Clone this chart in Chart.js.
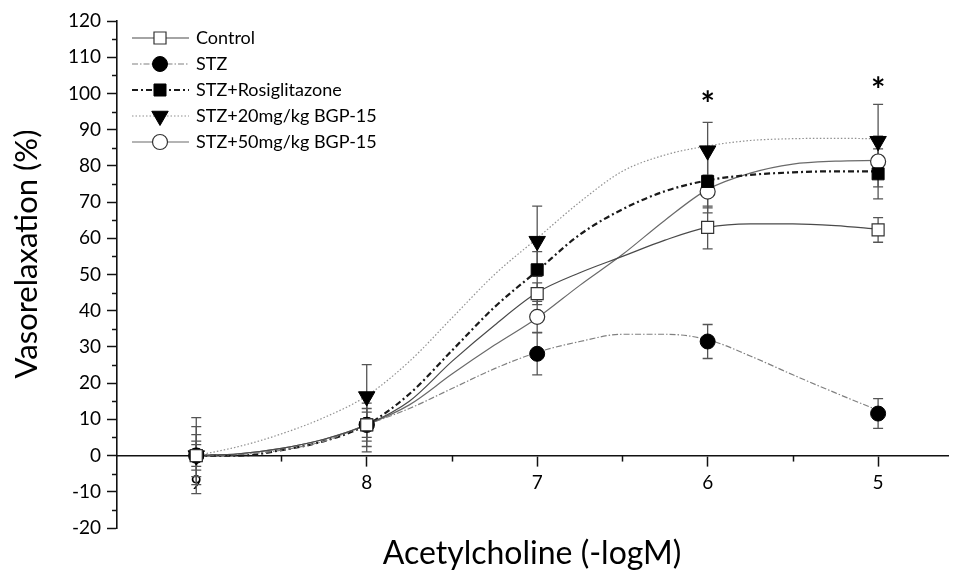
<!DOCTYPE html>
<html lang="en">
<head>
<meta charset="UTF-8">
<title>Vasorelaxation</title>
<style>
  html, body { margin: 0; padding: 0; background: #fff; }
  #wrap { width: 959px; height: 572px; }
</style>
</head>
<body>
<div id="wrap"><canvas id="myChart"></canvas></div>
<script src="https://cdn.jsdelivr.net/npm/chart.js"></script>
<script>
// Acetylcholine doses (-logM)
const doses = [9, 8, 7, 6, 5];

// mean vasorelaxation (%) per group
const control = [0, 8.5, 44.7, 63.0, 62.3];
const stz     = [0, 8.5, 28.1, 31.5, 11.6];
const rosi    = [0, 8.5, 51.3, 75.7, 77.8];
const bgp20   = [0, 16.3, 59.2, 84.2, 86.8];
const bgp50   = [0, 8.5, 38.3, 72.9, 81.2];

// error bars
const controlErr = [5.8, 4.5, 3.0, 5.9, 3.4];
const stzErr     = [4.0, 6.0, 5.8, 4.7, 4.1];
const rosiErr    = [8.0, 7.5, 5.0, 8.7, 6.9];
const bgp20Err   = [10.5, 8.8, 9.7, 7.8, 10.2];
const bgp50Err   = [3.0, 3.5, 4.3, 4.5, 7.0];

// fitted curves
const fitX       = [9, 8.75, 8.5, 8.25, 8, 7.75, 7.5, 7.25, 7, 6.75, 6.5, 6.25, 6, 5.75, 5.5, 5.25, 5];
const fitControl = [0, 0.5, 2, 4.5, 8.5, 15, 26, 36, 45, 50.5, 55, 59.5, 63, 64, 64, 63.5, 62.5];
const fitStz     = [0, 0.3, 1.5, 4, 8.5, 13, 18.5, 24, 28.5, 31.5, 33.5, 33.5, 32, 27.5, 22.3, 17.3, 12.5];
const fitRosi    = [0, 0, 1.5, 4, 8.5, 17, 29, 41, 51, 61, 68, 73, 76, 77.5, 78.2, 78.5, 78.5];
const fitBgp20   = [0, 2.5, 6, 10.5, 16.5, 26, 38, 50, 60, 70, 78.5, 83, 85.5, 87, 87.5, 87.6, 87.5];
const fitBgp50   = [0, 0.5, 2, 4.5, 8.5, 14, 22.5, 30.5, 38, 47, 55.5, 65, 73.5, 78, 80.5, 81.3, 81.5];

// significance marks
const starDoses  = [6, 5];
const starValues = [99, 103];

const groupNames = ['Control', 'STZ', 'STZ+Rosiglitazone', 'STZ+20mg/kg BGP-15', 'STZ+50mg/kg BGP-15'];

function pts(xs, ys) {
  return xs.map((v, i) => ({ x: v, y: ys[i] }));
}

Chart.defaults.font.family = 'Lato, "Liberation Sans", sans-serif';
Chart.defaults.color = '#000';

// line + marker styles per group
const lineStyles = [
  { borderColor: '#4a4a4a', borderWidth: 1.2, borderDash: [] },
  { borderColor: '#808080', borderWidth: 1.2, borderDash: [6, 2, 1.5, 2] },
  { borderColor: '#1a1a1a', borderWidth: 2.2, borderDash: [6, 3, 2, 3] },
  { borderColor: '#909090', borderWidth: 1.2, borderDash: [1.5, 2] },
  { borderColor: '#6a6a6a', borderWidth: 1.2, borderDash: [] }
];
const markStyles = [
  { pointStyle: 'rect', pointRadius: 8.5, pointRotation: 0, pointBackgroundColor: '#fff', pointBorderColor: '#333', pointBorderWidth: 1.2 },
  { pointStyle: 'circle', pointRadius: 7.5, pointRotation: 0, pointBackgroundColor: '#000', pointBorderColor: '#000', pointBorderWidth: 1 },
  { pointStyle: 'rect', pointRadius: 8.5, pointRotation: 0, pointBackgroundColor: '#000', pointBorderColor: '#000', pointBorderWidth: 1 },
  { pointStyle: 'triangle', pointRadius: 9.5, pointRotation: 180, pointBackgroundColor: '#000', pointBorderColor: '#000', pointBorderWidth: 1 },
  { pointStyle: 'circle', pointRadius: 7.5, pointRotation: 0, pointBackgroundColor: '#fff', pointBorderColor: '#333', pointBorderWidth: 1.2 }
];

const means = [control, stz, rosi, bgp20, bgp50];
const errs = [controlErr, stzErr, rosiErr, bgp20Err, bgp50Err];
const fits = [fitControl, fitStz, fitRosi, fitBgp20, fitBgp50];

const datasets = [];
fits.forEach((f, i) => {
  datasets.push(Object.assign({
    label: groupNames[i] + ' fit',
    data: pts(fitX, f),
    showLine: true,
    pointRadius: 0,
    cubicInterpolationMode: 'monotone',
    order: 2
  }, lineStyles[i]));
});
means.forEach((m, i) => {
  datasets.push(Object.assign({
    label: groupNames[i],
    data: pts(doses, m),
    showLine: false,
    isMark: true,
    order: 1
  }, markStyles[i]));
});

// error bars under the markers
const errorBars = {
  id: 'errorBars',
  beforeDatasetsDraw(chart) {
    const { ctx, scales: { x, y } } = chart;
    ctx.save();
    ctx.strokeStyle = '#555';
    ctx.lineWidth = 1.3;
    means.forEach((m, g) => {
      doses.forEach((d, i) => {
        const px = x.getPixelForValue(d);
        const top = y.getPixelForValue(m[i] + errs[g][i]);
        const bot = y.getPixelForValue(m[i] - errs[g][i]);
        ctx.beginPath();
        ctx.moveTo(px, top); ctx.lineTo(px, bot);
        ctx.moveTo(px - 5, top); ctx.lineTo(px + 5, top);
        ctx.moveTo(px - 5, bot); ctx.lineTo(px + 5, bot);
        ctx.stroke();
      });
    });
    ctx.restore();
  }
};

// short minor ticks, stars, axis titles and legend
const extras = {
  id: 'extras',
  afterDraw(chart) {
    const { ctx, scales: { x, y } } = chart;
    ctx.save();
    ctx.strokeStyle = '#111';
    ctx.lineWidth = 1.5;
    const yLeft = chart.chartArea.left;
    y.ticks.forEach(t => {
      if (t.value % 10 !== 0) {
        const py = Math.round(y.getPixelForValue(t.value)) + 0.5;
        ctx.beginPath(); ctx.moveTo(yLeft - 5, py); ctx.lineTo(yLeft, py); ctx.stroke();
      }
    });
    const y0 = y.getPixelForValue(0);
    x.ticks.forEach(t => {
      if (t.value % 1 !== 0) {
        const px = Math.round(x.getPixelForValue(t.value)) + 0.5;
        ctx.beginPath(); ctx.moveTo(px, y0); ctx.lineTo(px, y0 + 6); ctx.stroke();
      }
    });

    // stars
    ctx.fillStyle = '#000';
    ctx.font = 'bold 34px Lato';
    ctx.textAlign = 'center';
    ctx.textBaseline = 'middle';
    starDoses.forEach((d, i) => {
      ctx.fillText('*', x.getPixelForValue(d), y.getPixelForValue(starValues[i]) + 8);
    });

    // axis titles
    ctx.font = '32px Lato';
    ctx.fillText('Acetylcholine (-logM)', 532, 554);
    ctx.save();
    ctx.translate(27, 254);
    ctx.rotate(-Math.PI / 2);
    ctx.font = '31px Lato';
    ctx.fillText('Vasorelaxation (%)', 0, 0);
    ctx.restore();

    // legend
    const marks = chart.data.datasets.filter(d => d.isMark);
    const lines = chart.data.datasets.filter(d => !d.isMark);
    marks.forEach((m, i) => {
      const ly = 38 + i * 26;
      const l = lines[i];
      ctx.save();
      ctx.strokeStyle = l.borderColor;
      ctx.lineWidth = l.borderWidth;
      ctx.setLineDash(l.borderDash);
      ctx.beginPath(); ctx.moveTo(132, ly); ctx.lineTo(189, ly); ctx.stroke();
      ctx.setLineDash([]);
      ctx.fillStyle = m.pointBackgroundColor;
      ctx.strokeStyle = m.pointBorderColor;
      ctx.lineWidth = m.pointBorderWidth;
      Chart.helpers.drawPoint(ctx, {
        pointStyle: m.pointStyle, radius: m.pointRadius,
        rotation: m.pointRotation, borderWidth: m.pointBorderWidth
      }, 160, ly);
      ctx.fillStyle = '#000';
      ctx.font = '18px Lato';
      ctx.textAlign = 'left';
      ctx.textBaseline = 'middle';
      ctx.fillText(m.label, 196, ly);
      ctx.restore();
    });
    ctx.restore();
  }
};

new Chart(document.getElementById('myChart'), {
  type: 'scatter',
  data: { datasets: datasets },
  options: {
    responsive: true,
    maintainAspectRatio: false,
    animation: false,
    layout: { padding: { top: 21, bottom: 44, left: 0, right: 4 } },
    plugins: { legend: { display: false }, tooltip: { enabled: false } },
    scales: {
      x: {
        type: 'linear',
        reverse: true,
        min: 4.587,
        max: 9.465,
        position: { y: 0 },
        grid: {
          drawOnChartArea: false,
          tickLength: 10,
          tickWidth: 1.5,
          tickColor: c => (c.tick && c.tick.value % 1 === 0 ? '#111' : 'rgba(0,0,0,0)')
        },
        border: { display: true, color: '#111', width: 1.6 },
        ticks: {
          stepSize: 0.5,
          includeBounds: false,
          autoSkip: false,
          maxRotation: 0,
          padding: 6,
          font: { size: 19 },
          callback: v => (v % 1 === 0 ? String(v) : '')
        }
      },
      y: {
        min: -20,
        max: 120,
        afterFit: s => { s.width = 117; },
        grid: {
          drawOnChartArea: false,
          tickLength: 10,
          tickWidth: 1.5,
          tickColor: c => (c.tick && c.tick.value % 10 === 0 ? '#111' : 'rgba(0,0,0,0)')
        },
        border: { display: true, color: '#111', width: 1.6 },
        ticks: {
          stepSize: 5,
          autoSkip: false,
          padding: 6,
          font: { size: 19 },
          callback: v => (v % 10 === 0 ? String(v) : '')
        }
      }
    }
  },
  plugins: [errorBars, extras]
});
</script>
</body>
</html>
